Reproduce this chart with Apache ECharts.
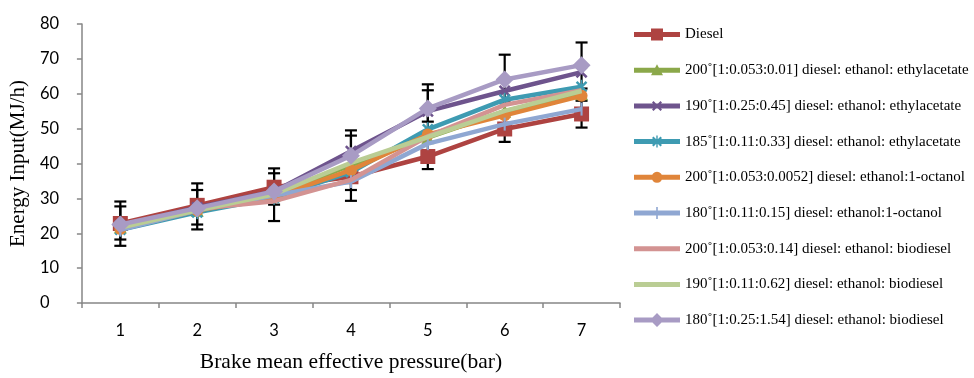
<!DOCTYPE html>
<html>
<head>
<meta charset="utf-8">
<script src="https://cdn.jsdelivr.net/npm/echarts@6/dist/echarts.min.js"></script>
<style>html,body{margin:0;padding:0;background:#fff;}#c{width:974px;height:378px;}</style>
</head>
<body>
<div id="c"></div>
<script>
const categories = ['1', '2', '3', '4', '5', '6', '7'];
const yTicks = [0, 10, 20, 30, 40, 50, 60, 70, 80];
const names = [
  'Diesel',
  '200˚[1:0.053:0.01] diesel: ethanol: ethylacetate',
  '190˚[1:0.25:0.45] diesel: ethanol: ethylacetate',
  '185˚[1:0.11:0.33] diesel: ethanol: ethylacetate',
  '200˚[1:0.053:0.0052] diesel: ethanol:1-octanol',
  '180˚[1:0.11:0.15] diesel: ethanol:1-octanol',
  '200˚[1:0.053:0.14] diesel: ethanol: biodiesel',
  '190˚[1:0.11:0.62] diesel: ethanol: biodiesel',
  '180˚[1:0.25:1.54] diesel: ethanol: biodiesel'
];
const diesel = [22.8, 28.0, 33.2, 36.2, 42.0, 49.9, 54.2];
const eth200 = [21.8, 26.6, 31.0, 39.5, 47.4, 55.0, 60.0];
const eth190 = [22.2, 27.4, 32.0, 43.5, 55.0, 60.8, 66.2];
const eth185 = [21.0, 26.0, 30.2, 37.5, 49.8, 58.3, 62.0];
const oct200 = [21.2, 26.5, 30.4, 38.1, 48.3, 53.8, 59.4];
const oct180 = [21.0, 26.6, 30.8, 34.8, 45.7, 51.3, 55.6];
const bio200 = [21.6, 27.0, 29.2, 35.3, 47.8, 56.8, 61.0];
const bio190 = [21.6, 26.6, 31.2, 40.2, 47.6, 55.1, 60.8];
const bio180 = [22.5, 27.2, 32.0, 42.2, 55.8, 64.1, 68.2];
const errHighA = [29.1, 34.3, 38.6, 49.5, 62.7, 71.2, 74.7];
const errLowA  = [18.2, 22.5, 28.2, 32.4, 52.0, 57.5, 61.5];
const errHighB = [27.7, 32.4, 37.2, 48.0, 61.0, 54.0, 58.0];
const errLowB  = [16.4, 21.1, 23.5, 29.3, 38.4, 46.2, 50.3];

const colors = ['#AE4341', '#8BA84A', '#6E548D', '#3E9BB2', '#E0853A', '#8FA7D2', '#D39392', '#BACD94', '#A89BC4'];
const valuesList = [diesel, eth200, eth190, eth185, oct200, oct180, bio200, bio190, bio180];
const crossPath = 'path://M0,1.5L1.5,0L5,3.5L8.5,0L10,1.5L6.5,5L10,8.5L8.5,10L5,6.5L1.5,10L0,8.5L3.5,5Z';
const starPath = 'path://M0,1.5L1.5,0L5,3.5L8.5,0L10,1.5L6.5,5L10,8.5L8.5,10L5,6.5L1.5,10L0,8.5L3.5,5ZM4.3,-1L5.7,-1L5.7,11L4.3,11Z';
const plusPath = 'path://M4.2,0L5.8,0L5.8,10L4.2,10Z';
const symbols = ['rect', 'triangle', crossPath, starPath, 'circle', plusPath, 'none', 'none', 'diamond'];
const sizes = [15, 13, 12, 14, 12, 13, 0, 0, 18];

// legend icons: line + marker, in a 46x14 box
const lgBounds = 'M0,0L0.01,0L0,0.01Z M46,14L45.99,14L46,13.99Z ';
const lgLine = 'M0,4.5L46,4.5L46,9.5L0,9.5Z ';
const lgMarks = [
  'M17,1L29,1L29,13L17,13Z',
  'M23,1L29,12L17,12Z',
  'M18,3.5L19.5,2L23,5.5L26.5,2L28,3.5L24.5,7L28,10.5L26.5,12L23,8.5L19.5,12L18,10.5L21.5,7Z',
  'M18,3.5L19.5,2L23,5.5L26.5,2L28,3.5L24.5,7L28,10.5L26.5,12L23,8.5L19.5,12L18,10.5L21.5,7Z M22.3,1L23.7,1L23.7,13L22.3,13Z',
  'M17.5,7A5.5,5.5,0,1,1,28.5,7A5.5,5.5,0,1,1,17.5,7Z',
  'M22.2,1L23.8,1L23.8,13L22.2,13Z',
  '',
  '',
  'M23,0L30,7L23,14L16,7Z'
];

const errData = [];
categories.forEach((c, i) => {
  errData.push([i, errLowA[i], errHighA[i]]);
  errData.push([i, errLowB[i], errHighB[i]]);
});

function renderErr(params, api) {
  const x = api.value(0);
  const lo = api.coord([x, api.value(1)]);
  const hi = api.coord([x, api.value(2)]);
  const w = 6;
  const st = { stroke: '#000', lineWidth: 2.2 };
  return {
    type: 'group',
    children: [
      { type: 'line', shape: { x1: lo[0], y1: lo[1], x2: hi[0], y2: hi[1] }, style: st },
      { type: 'line', shape: { x1: lo[0] - w, y1: lo[1], x2: lo[0] + w, y2: lo[1] }, style: st },
      { type: 'line', shape: { x1: hi[0] - w, y1: hi[1], x2: hi[0] + w, y2: hi[1] }, style: st }
    ]
  };
}

const series = [{
  type: 'custom',
  name: 'err',
  renderItem: renderErr,
  data: errData,
  z: 1,
  silent: true,
  encode: { x: 0, y: [1, 2] }
}];
valuesList.forEach((vals, k) => {
  series.push({
    type: 'line',
    name: names[k],
    data: vals,
    symbol: symbols[k],
    symbolSize: sizes[k],
    symbolKeepAspect: true,
    showSymbol: symbols[k] !== 'none',
    lineStyle: { width: 4.5, color: colors[k] },
    itemStyle: { color: colors[k] },
    z: 2 + k,
    animation: false
  });
});

const chart = echarts.init(document.getElementById('c'));
chart.setOption({
  animation: false,
  grid: { left: 81, right: 354, top: 24, bottom: 72 },
  legend: {
    data: names.map((n, k) => ({ name: n, icon: 'path://' + lgBounds + lgLine + lgMarks[k] })),
    orient: 'vertical',
    left: 634,
    top: 27,
    padding: 0,
    itemWidth: 46,
    itemHeight: 14,
    itemGap: 20.7,
    textStyle: { fontFamily: 'Liberation Serif', fontSize: 15, color: '#000', lineHeight: 14 },
    selectedMode: false
  },
  xAxis: {
    type: 'category',
    data: categories,
    boundaryGap: true,
    name: 'Brake mean effective pressure(bar)',
    nameLocation: 'middle',
    nameGap: 48,
    nameTextStyle: { fontFamily: 'Liberation Serif', fontSize: 21.5, color: '#000' },
    axisLine: { lineStyle: { color: '#868686', width: 1.5 } },
    axisTick: { show: true, length: 5, alignWithLabel: false, lineStyle: { color: '#868686', width: 1.5 } },
    axisLabel: { fontFamily: 'Lato', fontSize: 16.5, color: '#000', margin: 19 },
    splitLine: { show: false }
  },
  yAxis: {
    type: 'value',
    min: yTicks[0],
    max: yTicks[yTicks.length - 1],
    interval: 10,
    name: 'Energy Input(MJ/h)',
    nameLocation: 'middle',
    nameGap: 50,
    nameRotate: 90,
    nameTextStyle: { fontFamily: 'Liberation Serif', fontSize: 21, color: '#000' },
    axisLine: { show: true, lineStyle: { color: '#868686', width: 1.5 } },
    axisTick: { show: true, length: 5, lineStyle: { color: '#868686', width: 1.5 } },
    axisLabel: { fontFamily: 'Lato', fontSize: 16.5, color: '#000', margin: 42, align: 'left' },
    splitLine: { show: false }
  },
  series: series
});
</script>
</body>
</html>
